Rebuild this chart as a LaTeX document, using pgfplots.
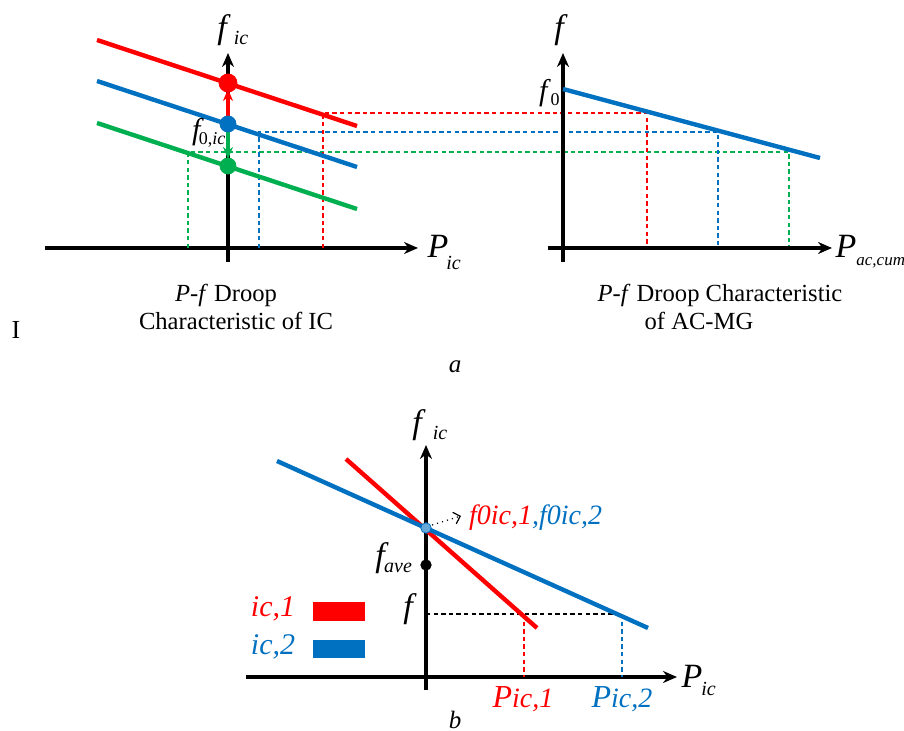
\documentclass[border=0pt]{standalone}
\usepackage{fontspec}
\setmainfont{Liberation Serif}
\usepackage{pgfplots}
\pgfplotsset{compat=1.18}
\usetikzlibrary{arrows.meta}
\definecolor{cRed}{HTML}{FF0000}
\definecolor{cBlue}{HTML}{0070C0}
\definecolor{cGreen}{HTML}{00B050}
\newcommand{\fs}[1]{\fontsize{#1}{#1}\selectfont}
\begin{document}
\begin{tikzpicture}
\begin{axis}[
  x=0.5pt, y=0.5pt, xmin=0, xmax=904, ymin=0, ymax=731,
  y dir=reverse, hide axis, clip=false,
  axline/.style={black, line width=1.7pt, -{Stealth[length=7pt,width=6pt]}},
  droop/.style={line width=2.2pt},
  dash/.style={line width=0.9pt, dash pattern=on 2.2pt off 1.6pt},
]
% ---------- panel a, left: droop of the IC
\addplot[axline] coordinates {(228,262) (228,53)};
\addplot[axline] coordinates {(45,248) (418,248)};
\addplot[dash, cGreen] coordinates {(188,248) (188,152) (789,152) (789,248)};
\addplot[dash, cBlue]  coordinates {(259,248) (259,132) (718,132) (718,248)};
\addplot[dash, cRed]   coordinates {(323,248) (323,113) (647,113) (647,248)};
\addplot[droop, cRed]   coordinates {(97,40)  (357,126)};
\addplot[droop, cBlue]  coordinates {(97,81)  (357,167)};
\addplot[droop, cGreen] coordinates {(97,123) (357,209)};
\addplot[cRed, line width=2.2pt, -{Stealth[length=6pt,width=5pt]}] coordinates {(228,124) (228,89)};
\addplot[cGreen, line width=2.2pt, -{Stealth[length=6pt,width=5pt]}] coordinates {(228,124) (228,159)};
\addplot[only marks, mark=*, mark size=4.5pt, cRed]   coordinates {(228,83)};
\addplot[only marks, mark=*, mark size=4pt,   cBlue]  coordinates {(228,124)};
\addplot[only marks, mark=*, mark size=4pt,   cGreen] coordinates {(228,166)};
\node at (axis cs:224,30) {\fs{17}\textit{f}};
\node at (axis cs:241,38) {\fs{10}\textit{ic}};
\node at (axis cs:198,132) {\fs{15}\textit{f}};
\node at (axis cs:212,140) {\fs{9}0,\textit{ic}};
\node at (axis cs:438,246) {\fs{17}\textit{P}};
\node[anchor=west, inner sep=0.5pt] at (axis cs:445,263) {\fs{10}\textit{ic}};
% ---------- panel a, right: droop of the AC-MG
\addplot[axline] coordinates {(563,262) (563,53)};
\addplot[axline] coordinates {(548,248) (832,248)};
\addplot[droop, cBlue] coordinates {(563,89) (820,158)};
\node at (axis cs:561,30) {\fs{17}\textit{f}};
\node at (axis cs:545,93) {\fs{15}\textit{f}};
\node at (axis cs:555,100) {\fs{9}0};
\node at (axis cs:846,246) {\fs{17}\textit{P}};
\node[anchor=west, inner sep=0.5pt] at (axis cs:855,263) {\fs{8.5}\textit{ac,cum}};
% ---------- captions of panel a
\node at (axis cs:226,295) {\fs{12.3}\textit{P-f} Droop};
\node at (axis cs:236,321) {\fs{12.3}Characteristic of IC};
\node at (axis cs:720,295) {\fs{12.3}\textit{P-f} Droop Characteristic};
\node at (axis cs:699,321) {\fs{12.3}of AC-MG};
\node at (axis cs:16,330) {\fs{13}I};
\node at (axis cs:455,367) {\fs{12.5}\textit{a}};
% ---------- panel b
\addplot[axline] coordinates {(426,690) (426,445)};
\addplot[axline] coordinates {(246,677) (677,677)};
\addplot[dash, black] coordinates {(426,614) (622,614)};
\addplot[dash, cRed]  coordinates {(524,614) (524,677)};
\addplot[dash, cBlue] coordinates {(622,614) (622,677)};
\addplot[droop, cRed]  coordinates {(346,459) (537,628)};
\addplot[droop, cBlue] coordinates {(277,461) (648,628)};
\addplot[only marks, mark=*, mark size=2.6pt, cBlue, fill=cBlue!60] coordinates {(426,528)};
\addplot[only marks, mark=*, mark size=2.6pt, black] coordinates {(426,565)};
\addplot[black, line width=0.6pt, dotted, -{Straight Barb[length=3pt]}] coordinates {(432,525) (461,516)};
\node[anchor=west] at (axis cs:462,518) {\fs{14}\textit{\textcolor{cRed}{f0ic,1}\textcolor{cBlue}{,f0ic,2}}};
\node at (axis cs:419,425) {\fs{17}\textit{f}};
\node at (axis cs:440,433) {\fs{10}\textit{ic}};
\node at (axis cs:382,558) {\fs{17}\textit{f}};
\node at (axis cs:398,568) {\fs{10}\textit{ave}};
\node at (axis cs:410,609) {\fs{17}\textit{f}};
\node at (axis cs:692,676) {\fs{17}\textit{P}};
\node[anchor=west, inner sep=0.5pt] at (axis cs:700,689) {\fs{10}\textit{ic}};
\node[text=cRed]  at (axis cs:523,699) {\fs{16}\textit{P}\fs{14}\textit{ic,1}};
\node[text=cBlue] at (axis cs:622,699) {\fs{16}\textit{P}\fs{14}\textit{ic,2}};
% legend of panel b
\node[text=cRed]  at (axis cs:273,609) {\fs{15}\textit{ic,1}};
\node[text=cBlue] at (axis cs:273,647) {\fs{15}\textit{ic,2}};
\addplot[fill=cRed,  draw=none] coordinates {(313,602) (365,602) (365,621) (313,621)} --cycle;
\addplot[fill=cBlue, draw=none] coordinates {(313,640) (365,640) (365,658) (313,658)} --cycle;
\node[anchor=base, inner sep=0pt] at (axis cs:455,728) {\fs{12.5}\textit{b}};
\end{axis}
\pgfresetboundingbox
\path (current axis.south west) rectangle (current axis.north east);
\end{tikzpicture}
\end{document}
